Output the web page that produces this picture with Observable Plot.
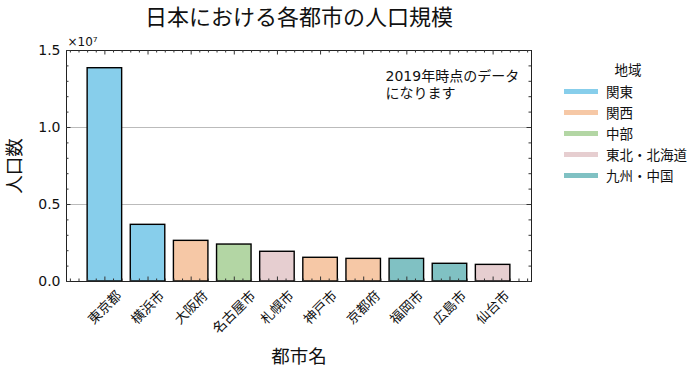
<!DOCTYPE html>
<html><head><meta charset="utf-8">
<script src="https://cdn.jsdelivr.net/npm/d3@7"></script>
<script src="https://cdn.jsdelivr.net/npm/@observablehq/plot@0.6"></script>
<style>
body{margin:0;background:#fff;}
#wrap{position:relative;width:699px;height:373px;font-family:'DejaVu Sans','Noto Sans CJK JP',sans-serif;color:#111;}
#legend{position:absolute;left:563px;top:59.5px;width:130px;font-size:13.5px;}
#legend .ttl{height:21px;line-height:21px;text-align:center;}
#legend .row{height:21px;display:flex;align-items:center;}
#legend .sw{width:34px;height:5px;margin-left:1px;margin-right:8px;}
</style></head><body><div id="wrap"></div>
<script>
const cities = ["東京都","横浜市","大阪府","名古屋市","札幌市","神戸市","京都府","福岡市","広島市","仙台市"];
const populations = [13850000, 3680000, 2640000, 2400000, 1930000, 1540000, 1470000, 1470000, 1150000, 1080000];
const regions = ["関東","関東","関西","中部","東北・北海道","関西","関西","九州・中国","九州・中国","東北・北海道"];
const regionOrder = ["関東","関西","中部","東北・北海道","九州・中国"];
const regionColors = ["#87CEEB","#F6C8A6","#B3D6A4","#E6CED0","#80C1C3"];
const yTicks = [0, 5e6, 1e7, 1.5e7];
const titleText = "日本における各都市の人口規模";
const xLabel = "都市名";
const yLabel = "人口数";
const expText = "×10⁷";
const noteText = "2019年時点のデータ\nになります";
const legendTitle = "地域";

const data = cities.map((c, i) => ({i, city: c, pop: populations[i], region: regions[i]}));

const W = 699, H = 373, mL = 66, mR = 168, mT = 50, mB = 92;
const fw = W - mL - mR, fh = H - mT - mB;
const half = 0.4, pad = 0.05 * (cities.length - 1 + 2 * half);
const xDomain = [-half - pad, cities.length - 1 + half + pad];

const majorX = d3.range(cities.length);
const minorX = d3.range(-4, cities.length * 5).filter(k => k % 5 !== 0).map(k => k / 5).filter(v => v >= xDomain[0] && v <= xDomain[1]);
const minorY = d3.range(1, 15).filter(k => k % 5 !== 0).map(k => k * 1e6);
const MAJ = 4.5, MIN = 2.5, tc = "#333";
const font = "'DejaVu Sans', 'Noto Sans CJK JP', sans-serif";
const fsX = 13.5;

const lens = Array.from(new Set(cities.map(c => c.length)));
const xLabelMarks = lens.map(n => Plot.text(data.filter(d => d.city.length === n), {
  x: "i", text: "city", frameAnchor: "bottom", rotate: -45, textAnchor: "middle",
  lineAnchor: "middle", dy: 7 + (n + 1) * fsX * Math.SQRT1_2 / 2, fontSize: fsX, fill: "#111", fontFamily: font
}));

const chart = Plot.plot({
  width: W, height: H, marginLeft: mL, marginRight: mR, marginTop: mT, marginBottom: mB,
  x: {type: "linear", domain: xDomain, axis: null},
  y: {domain: [0, 1.5e7]},
  color: {domain: regionOrder, range: regionColors},
  style: {fontFamily: font, background: "white", overflow: "visible"},
  marks: [
    Plot.ruleY([5e6, 1e7], {stroke: "#bbb", strokeWidth: 1}),
    Plot.rectY(data, {x1: d => d.i - half, x2: d => d.i + half, y: "pop", fill: "region", stroke: "#000", strokeWidth: 1.4}),
    Plot.frame({stroke: "#222", strokeWidth: 1}),
    Plot.tickY(yTicks, {y: d => d, insetRight: fw - MAJ, stroke: tc}),
    Plot.tickY(yTicks, {y: d => d, insetLeft: fw - MAJ, stroke: tc}),
    Plot.tickY(minorY, {y: d => d, insetRight: fw - MIN, stroke: tc}),
    Plot.tickY(minorY, {y: d => d, insetLeft: fw - MIN, stroke: tc}),
    Plot.tickX(majorX, {x: d => d, insetTop: fh - MAJ, stroke: tc}),
    Plot.tickX(majorX, {x: d => d, insetBottom: fh - MAJ, stroke: tc}),
    Plot.tickX(minorX, {x: d => d, insetTop: fh - MIN, stroke: tc}),
    Plot.tickX(minorX, {x: d => d, insetBottom: fh - MIN, stroke: tc}),
    Plot.axisY({ticks: yTicks, tickSize: 0, tickPadding: 6, tickFormat: d => (d / 1e7).toFixed(1), fontSize: 14, label: null, fill: "#111"}),
    ...xLabelMarks,
    Plot.text([yLabel], {frameAnchor: "left", rotate: -90, textAnchor: "middle", lineAnchor: "middle", dx: -51, fontSize: 18.5, fill: "#111", fontFamily: font}),
    Plot.text([xLabel], {frameAnchor: "bottom", textAnchor: "middle", lineAnchor: "middle", dy: 76, fontSize: 18.5, fill: "#111", fontFamily: font}),
    Plot.text([titleText], {frameAnchor: "top", textAnchor: "middle", lineAnchor: "middle", dy: -33, fontSize: 22, fill: "#111", fontFamily: font}),
    Plot.text([expText], {frameAnchor: "top-left", textAnchor: "start", lineAnchor: "middle", dx: 1, dy: -8, fontSize: 12, fill: "#111", fontFamily: font}),
    Plot.text([noteText], {frameAnchor: "top-left", textAnchor: "start", lineAnchor: "middle", dx: 319, dy: 33.5, fontSize: 14, lineHeight: 1.21, fill: "#111", fontFamily: font})
  ]
});

const wrap = document.getElementById("wrap");
wrap.appendChild(chart);
const lg = d3.select(wrap).append("div").attr("id", "legend");
lg.append("div").attr("class", "ttl").text(legendTitle);
regionOrder.forEach((r, k) => {
  const row = lg.append("div").attr("class", "row");
  row.append("div").attr("class", "sw").style("background", regionColors[k]);
  row.append("div").text(r);
});
</script></body></html>
